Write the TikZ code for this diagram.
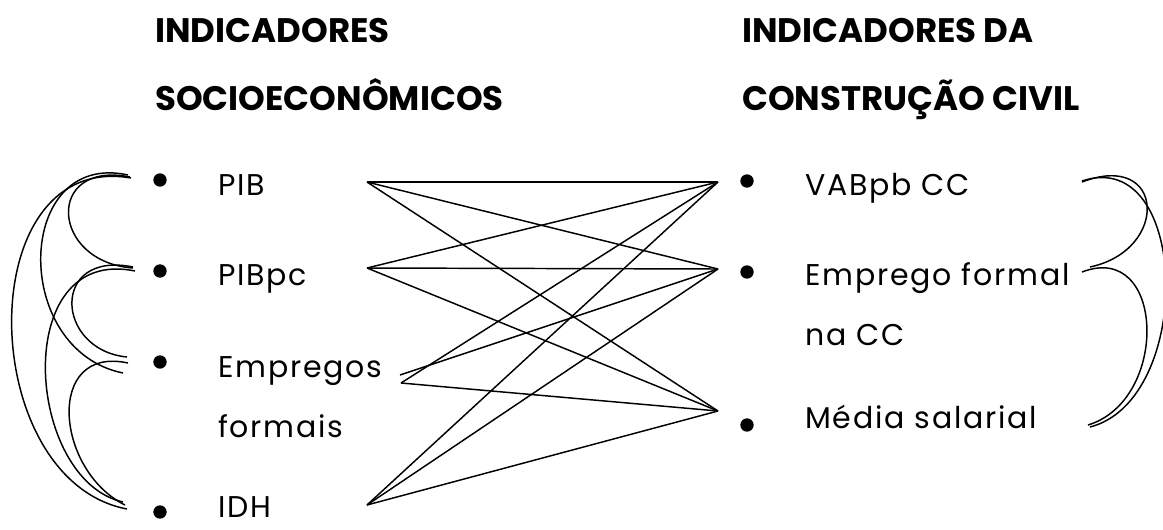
\documentclass[tikz,border=0pt]{standalone}
\usepackage{fontspec}
\setmainfont{Poppins}
\newfontfamily\itemfont[LetterSpace=6]{Poppins}
\usetikzlibrary{positioning}

\begin{document}
\begin{tikzpicture}[
    x=0.75pt, y=-0.75pt,
    heading/.style={font=\fontsize{25.5}{51}\selectfont\bfseries, anchor=base west, align=left, inner sep=0pt},
    item/.style={font=\itemfont\fontsize{22.5}{45}\selectfont, anchor=base west, align=left, inner sep=0pt},
    dot/.style={circle, fill=black, inner sep=0pt, minimum size=10pt},
    link/.style={line width=1.1pt},
    arc/.style={line width=1.1pt}
]
    \useasboundingbox (0,0) rectangle (1163,529);

    % Headings (anchored on their last line)
    \node[heading] (socio) at (155,110) {INDICADORES\\SOCIOECONÔMICOS};
    \node[heading] (civil) at (742,110) {INDICADORES DA\\CONSTRUÇÃO CIVIL};

    % Left items
    \node[dot] (b1) at (160,180) {};
    \node[dot] (b2) at (160,271) {};
    \node[dot] (b3) at (160,362) {};
    \node[dot] (b4) at (160,512) {};
    \node[item] (pib) at (218,195) {PIB};
    \node[item] (pibpc) at (218,285) {PIBpc};
    \node[item] (empregos) at (218,437) {Empregos\\formais};
    \node[item] (idh) at (218,517) {IDH};

    % Right items
    \node[dot] (c1) at (747,181) {};
    \node[dot] (c2) at (747,272) {};
    \node[dot] (c3) at (747,425) {};
    \node[item] (vab) at (805,195) {VABpb CC};
    \node[item] (empf) at (805,345) {Emprego formal\\na CC};
    \node[item] (media) at (805,428) {Média salarial};

    % Connector ends
    \coordinate (pibR) at (367,182);
    \coordinate (pibpcR) at (367,268);
    \coordinate (empR) at (400,375);
    \coordinate (empRb) at (401,383);
    \coordinate (idhR) at (367,505);
    \coordinate (vabL) at (718,182);
    \coordinate (empfL) at (718,269);
    \coordinate (mediaL) at (718,411);

    % Links between both groups
    \foreach \a in {pibR, pibpcR, idhR}
        \foreach \b in {vabL, empfL, mediaL}
            \draw[link] (\a) -- (\b);
    \draw[link] (empRb) -- (vabL);
    \draw[link] (empR) -- (empfL);
    \draw[link] (empRb) -- (mediaL);

    % Arcs on the left
    \draw[arc] (130,177) .. controls (45,160) and (50,262) .. (133,268);
    \draw[arc] (128,175) .. controls (15,150) and (10,350) .. (123,373);
    \draw[arc] (131,178) .. controls (-30,150) and (-25,480) .. (127,509);
    \draw[arc] (133,267) .. controls (50,250) and (55,350) .. (127,357);
    \draw[arc] (135,271) .. controls (10,245) and (25,480) .. (123,502);
    \draw[arc] (128,363) .. controls (45,345) and (55,470) .. (125,505);

    % Arcs on the right
    \draw[arc] (1082,182) .. controls (1165,150) and (1170,250) .. (1090,267);
    \draw[arc] (1082,272) .. controls (1165,240) and (1170,400) .. (1088,425);
    \draw[arc] (1082,181) .. controls (1190,145) and (1195,400) .. (1090,427);
\end{tikzpicture}
\end{document}
